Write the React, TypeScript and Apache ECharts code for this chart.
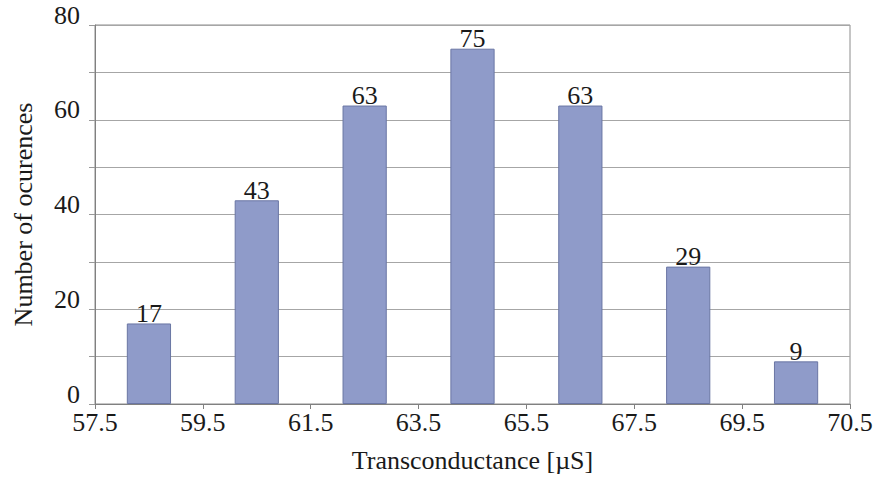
import React, { useEffect, useRef } from "react";
import * as echarts from "echarts";

const binCategories = ["58.5", "60.5", "62.5", "64.5", "66.5", "68.5", "70.5"];
const occurrences = [17, 43, 63, 75, 63, 29, 9];
const xTickLabels = ["57.5", "59.5", "61.5", "63.5", "65.5", "67.5", "69.5", "70.5"];
const yTickValues = [0, 20, 40, 60, 80];

const FONT = "'Liberation Serif', 'Times New Roman', serif";
const FS = 26;

export default function App() {
  const ref = useRef<HTMLDivElement>(null);
  useEffect(() => {
    if (!ref.current) return;
    const chart = echarts.init(ref.current, null, { renderer: "svg" });
    chart.setOption({
      animation: false,
      backgroundColor: "#ffffff",
      textStyle: { fontFamily: FONT, color: "#1a1a1a" },
      grid: {
        left: 95,
        right: 27,
        top: 25,
        bottom: 73,
        containLabel: false,
        outerBoundsMode: "none",
        show: true,
        borderColor: "#8c8c8c",
        borderWidth: 1,
      },
      xAxis: [
        {
          type: "category",
          data: binCategories,
          axisLine: { lineStyle: { color: "#808080", width: 1 } },
          axisTick: { show: false },
          axisLabel: { show: false },
          splitLine: { show: false },
        },
        {
          type: "value",
          min: 0,
          max: xTickLabels.length - 1,
          interval: 1,
          position: "bottom",
          axisLine: { show: false },
          axisTick: { show: true, length: 5, inside: false, lineStyle: { color: "#808080" } },
          splitLine: { show: false },
          axisLabel: {
            fontFamily: FONT,
            fontSize: FS,
            color: "#1a1a1a",
            margin: 5,
            verticalAlign: "top",
            lineHeight: 26,
            formatter: (v: number) => xTickLabels[Math.round(v)] ?? "",
          },
          name: "Transconductance [\u00b5S]",
          nameLocation: "middle",
          nameGap: 43,
          nameTextStyle: { fontFamily: FONT, fontSize: FS, color: "#1a1a1a", lineHeight: 26 },
        },
      ],
      yAxis: {
        type: "value",
        min: 0,
        max: 80,
        interval: 10,
        axisLine: { show: true, lineStyle: { color: "#808080", width: 1 } },
        axisTick: { show: true, length: 6, lineStyle: { color: "#999999" } },
        splitLine: { show: true, lineStyle: { color: "#a6a6a6", width: 1 } },
        axisLabel: {
          fontFamily: FONT,
          fontSize: FS,
          color: "#1a1a1a",
          margin: 15,
          verticalAlign: "bottom",
          lineHeight: 20,
          formatter: (v: number) => (yTickValues.includes(v) ? String(v) : ""),
        },
        name: "Number of ocurences",
        nameLocation: "middle",
        nameGap: 59,
        nameRotate: 90,
        nameTextStyle: { fontFamily: FONT, fontSize: FS, color: "#1a1a1a", lineHeight: 26 },
      },
      series: [
        {
          type: "bar",
          xAxisIndex: 0,
          data: occurrences,
          barWidth: "41%",
          itemStyle: { color: "#8f9bc9", borderColor: "#6a76a4", borderWidth: 1 },
          label: {
            show: true,
            position: "top",
            distance: 2,
            fontFamily: FONT,
            fontSize: FS,
            color: "#1a1a1a",
            lineHeight: 16,
          },
        },
      ],
    });
    return () => chart.dispose();
  }, []);
  return (
    <div
      ref={ref}
      style={{ position: "fixed", left: 0, top: 0, width: 877, height: 477 }}
    />
  );
}
